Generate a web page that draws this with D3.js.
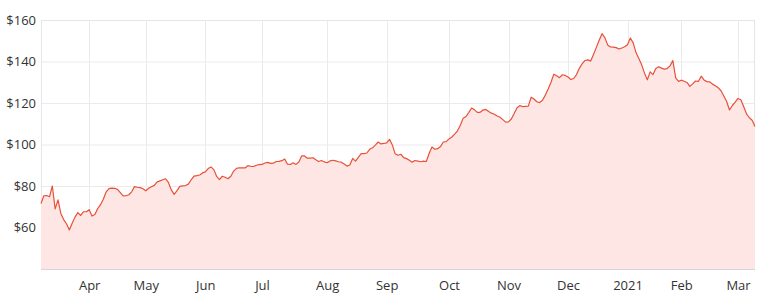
<!DOCTYPE html>
<html>
<head>
<meta charset="utf-8">
<script src="https://cdn.jsdelivr.net/npm/d3@7"></script>
<style>
  body { margin: 0; background: #fff; }
  svg text { font-family: "Open Sans", sans-serif; font-size: 13px; fill: #333; }
</style>
</head>
<body>
<div id="chart"></div>
<script>
// daily closes, one per trading day, Mar 2020 - Mar 2021
var prices = [
  71.5, 75.3, 75.4, 74.8, 80.0, 69.0, 73.3, 66.8, 63.8, 61.8,
  58.8, 62.0, 65.0, 67.2, 65.8, 67.6, 67.6, 68.6, 65.5, 66.3,
  69.1, 71.0, 73.6, 77.2, 78.7, 79.0, 78.9, 78.4, 76.8, 75.2,
  75.3, 75.8, 77.2, 79.7, 79.4, 79.2, 78.7, 77.7, 78.9, 79.6,
  80.3, 82.0, 82.5, 83.0, 83.5, 81.6, 78.1, 76.0, 77.8, 79.8,
  80.1, 80.2, 80.9, 83.0, 84.8, 85.0, 85.3, 86.3, 86.8, 88.4,
  89.2, 87.9, 84.6, 83.1, 84.7, 84.2, 83.5, 84.7, 87.2, 88.5,
  88.8, 88.7, 88.7, 89.8, 89.5, 89.4, 90.0, 90.3, 90.4, 91.1,
  91.4, 90.9, 91.0, 91.8, 91.9, 92.2, 93.0, 90.5, 90.4, 91.2,
  90.4, 91.6, 94.5, 94.5, 93.4, 93.4, 93.6, 92.6, 91.8, 92.3,
  91.6, 91.2, 92.1, 92.4, 92.1, 91.7, 91.5, 90.6, 89.6, 90.1,
  93.3, 92.0, 93.8, 95.6, 95.6, 95.9, 97.7, 98.4, 99.7, 101.2,
  100.3, 100.5, 100.8, 102.5, 99.8, 95.5, 94.8, 95.3, 93.7, 93.2,
  92.4, 91.5, 92.3, 92.0, 91.7, 92.0, 91.8, 95.8, 98.8, 97.7,
  98.0, 99.0, 101.2, 101.4, 102.7, 103.6, 105.0, 106.6, 109.3, 112.7,
  113.5, 115.5, 117.6, 116.7, 115.5, 115.5, 116.6, 116.9, 115.9, 115.1,
  114.6, 113.7, 113.1, 112.0, 110.8, 110.9, 112.3, 114.9, 117.7, 118.7,
  118.3, 118.4, 118.5, 122.8, 121.9, 120.6, 120.2, 121.3, 123.8, 126.7,
  130.0, 133.9, 133.1, 132.2, 133.6, 133.3, 132.5, 131.3, 131.8, 133.7,
  136.7, 138.9, 140.5, 140.8, 140.2, 143.4, 146.8, 150.2, 153.4, 151.5,
  148.0, 147.0, 146.9, 146.7, 146.0, 146.5, 147.1, 148.1, 151.3, 149.0,
  144.3, 141.4, 138.4, 134.4, 131.2, 135.0, 133.7, 136.6, 137.5, 136.8,
  136.3, 136.6, 137.9, 140.5, 132.1, 130.4, 131.0, 130.5, 129.9, 128.0,
  129.2, 130.6, 130.4, 132.9, 131.1, 130.3, 130.2, 129.1, 128.3, 127.4,
  125.9, 123.4, 120.7, 116.6, 118.8, 120.4, 122.2, 121.6, 118.3, 114.8,
  112.9, 111.7, 108.7
];

// first trading day of each month (index into prices) and its label
var monthStart = [17, 37, 58, 78, 101, 122, 144, 165, 186, 207, 226, 246];
var monthLabels = ["Apr", "May", "Jun", "Jul", "Aug", "Sep", "Oct", "Nov", "Dec", "2021", "Feb", "Mar"];

var yTicks = [60, 80, 100, 120, 140, 160];

var width = 768,
    height = 302;
var margin = {top: 20, right: 13, bottom: 33, left: 41};

var svg = d3.select("#chart")
  .append("svg")
  .attr("width", width)
  .attr("height", height);

var x = d3.scaleLinear()
  .domain([0, prices.length - 1])
  .range([margin.left, width - margin.right]);

var y = d3.scaleLinear()
  .domain([40, 160])
  .range([height - margin.bottom, margin.top]);

// grid
var grid = svg.append("g");
grid.selectAll(".hgrid")
  .data(yTicks)
  .enter().append("line")
  .attr("x1", margin.left).attr("x2", width - margin.right)
  .attr("y1", function(d) { return y(d) + 0.5; })
  .attr("y2", function(d) { return y(d) + 0.5; })
  .attr("stroke", "#ebebeb");

grid.selectAll(".vgrid")
  .data(monthStart)
  .enter().append("line")
  .attr("x1", function(d) { return Math.round(x(d)) + 0.5; })
  .attr("x2", function(d) { return Math.round(x(d)) + 0.5; })
  .attr("y1", margin.top).attr("y2", height - margin.bottom)
  .attr("stroke", "#ebebeb");

// frame
svg.append("rect")
  .attr("x", margin.left + 0.5).attr("y", margin.top + 0.5)
  .attr("width", width - margin.left - margin.right - 1)
  .attr("height", height - margin.top - margin.bottom)
  .attr("fill", "none")
  .attr("stroke", "#e6e6e6");

var area = d3.area()
  .x(function(d, i) { return x(i); })
  .y0(y(40))
  .y1(function(d) { return y(d); });

var line = d3.line()
  .x(function(d, i) { return x(i); })
  .y(function(d) { return y(d); });

svg.append("path")
  .datum(prices)
  .attr("d", area)
  .attr("fill", "#fde6e3");

svg.append("path")
  .datum(prices)
  .attr("d", line)
  .attr("fill", "none")
  .attr("stroke", "#e8503a")
  .attr("stroke-width", 1.2)
  .attr("stroke-linejoin", "round");

// bottom axis line
svg.append("line")
  .attr("x1", margin.left).attr("x2", width - margin.right)
  .attr("y1", y(40) + 0.5).attr("y2", y(40) + 0.5)
  .attr("stroke", "#d6d6d6");

// y labels
var yAxis = d3.axisLeft(y)
  .tickValues(yTicks)
  .tickSize(0)
  .tickPadding(5)
  .tickFormat(function(d) { return "$" + d; });

svg.append("g")
  .attr("transform", "translate(" + margin.left + ",0)")
  .call(yAxis)
  .call(function(g) { g.select(".domain").remove(); })
  .selectAll("text")
  .attr("font-family", null)
  .attr("font-size", null);

// x labels
var xAxis = d3.axisBottom(x)
  .tickValues(monthStart)
  .tickSize(0)
  .tickPadding(12)
  .tickFormat(function(d, i) { return monthLabels[i]; });

svg.append("g")
  .attr("transform", "translate(0," + y(40) + ")")
  .call(xAxis)
  .call(function(g) { g.select(".domain").remove(); })
  .selectAll("text")
  .attr("font-family", null)
  .attr("font-size", null);
</script>
</body>
</html>
